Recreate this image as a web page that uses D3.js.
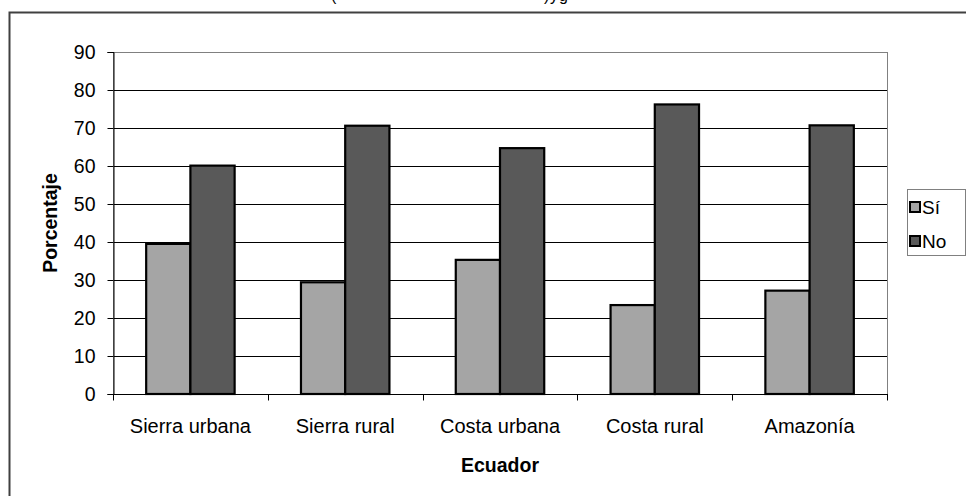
<!DOCTYPE html>
<html><head><meta charset="utf-8">
<script src="https://cdn.jsdelivr.net/npm/d3@7"></script>
<style>body{margin:0;background:#fff}svg{display:block}text{font-family:Arial,"Liberation Sans",sans-serif;fill:#000}</style>
</head><body>
<svg id="c" width="966" height="496"></svg>
<script>
const categories = ["Sierra urbana","Sierra rural","Costa urbana","Costa rural","Amazonía"];
const series = ["Sí","No"];
const siValues = [39.5, 29.4, 35.3, 23.4, 27.2];
const noValues = [60.1, 70.6, 64.7, 76.2, 70.7];
const yTicks = [0,10,20,30,40,50,60,70,80,90];
const colors = ["#a5a5a5","#595959"];
const xTitle = "Ecuador", yTitle = "Porcentaje";

const svg = d3.select("#c");
const L = 113, R = 887, T = 52, B = 394;

// outer frame
svg.append("rect").attr("x",9.5).attr("y",12.5).attr("width",970).attr("height",500)
  .attr("fill","none").attr("stroke","#404040").attr("stroke-width",2);

// cut-off title fragments (only their lower edge is visible, as in the source)
[["(",331],[")",544],["y",550],["g",559]].forEach(([t,x])=>{
  svg.append("text").attr("x",x).attr("y",0.5).attr("font-size",16).text(t);
});

const x0 = d3.scaleBand().domain(categories).range([L,R]);
const x1 = d3.scaleBand().domain(series).range([0,x0.bandwidth()]).paddingInner(0).paddingOuter(0.75);
const y = d3.scaleLinear().domain([0,90]).range([B,T]);

// gridlines
svg.append("g").selectAll("line").data(yTicks.filter(v=>v>0 && v<90)).join("line")
  .attr("x1",L).attr("x2",R).attr("y1",d=>Math.round(y(d))+0.5).attr("y2",d=>Math.round(y(d))+0.5)
  .attr("stroke","#000").attr("stroke-width",1);
// plot border
svg.append("rect").attr("x",L+0.5).attr("y",T+0.5).attr("width",R-L).attr("height",B-T)
  .attr("fill","none").attr("stroke","#808080");

// bars
const data = categories.map((c,i)=>({c, vals:[siValues[i], noValues[i]]}));
const g = svg.append("g").selectAll("g").data(data).join("g")
  .attr("transform",d=>`translate(${x0(d.c)},0)`);
g.selectAll("rect").data(d=>series.map((s,j)=>({s, v:d.vals[j], j}))).join("rect")
  .attr("x",d=>x1(d.s)).attr("width",x1.bandwidth())
  .attr("y",d=>y(d.v)).attr("height",d=>B-y(d.v))
  .attr("fill",d=>colors[d.j]).attr("stroke","#000").attr("stroke-width",2.2);

// y axis
const yAxis = d3.axisLeft(y).tickValues(yTicks).tickSize(6).tickPadding(12);
const ya = svg.append("g").attr("transform",`translate(${L+0.5},0)`).call(yAxis);
ya.select(".domain").attr("stroke","#000");
ya.selectAll(".tick line").attr("stroke","#000");
ya.selectAll("text").attr("font-size",19.5).attr("font-family","Arial,'Liberation Sans',sans-serif").attr("fill","#000");

// x axis
const xa = svg.append("g").attr("transform",`translate(0,${B+0.5})`);
xa.append("line").attr("x1",L).attr("x2",R+1).attr("y1",0).attr("y2",0).attr("stroke","#000");
const bounds = categories.map(c=>x0(c)).concat([R]);
xa.selectAll("line.t").data(bounds).join("line").attr("class","t")
  .attr("x1",d=>Math.round(d)+0.5).attr("x2",d=>Math.round(d)+0.5).attr("y1",0).attr("y2",6).attr("stroke","#000");
xa.selectAll("text").data(categories).join("text")
  .attr("x",d=>x0(d)+x0.bandwidth()/2).attr("y",38).attr("text-anchor","middle")
  .attr("font-size",20).text(d=>d);

// axis titles
svg.append("text").attr("x",500).attr("y",472).attr("text-anchor","middle")
  .attr("font-size",19.5).attr("font-weight","bold").text(xTitle);
svg.append("text").attr("transform","translate(57,223) rotate(-90)").attr("text-anchor","middle")
  .attr("font-size",19.5).attr("font-weight","bold").text(yTitle);

// legend
const lg = svg.append("g");
lg.append("rect").attr("x",907.5).attr("y",189.5).attr("width",58).attr("height",66)
  .attr("fill","#fff").attr("stroke","#808080");
series.forEach((s,i)=>{
  const yy = 202 + i*34;
  lg.append("rect").attr("x",910).attr("y",yy).attr("width",10).attr("height",10)
    .attr("fill",colors[i]).attr("stroke","#000").attr("stroke-width",2);
  lg.append("text").attr("x",922).attr("y",yy+12).attr("font-size",19).text(s);
});
</script>
</body></html>
